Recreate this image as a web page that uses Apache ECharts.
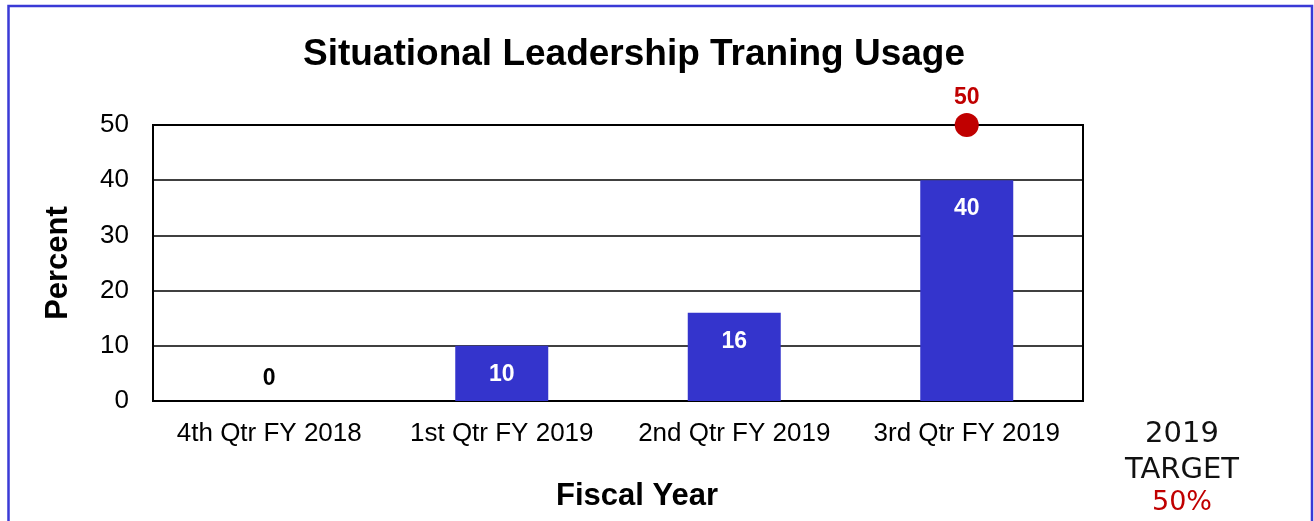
<!DOCTYPE html>
<html>
<head>
<meta charset="utf-8">
<script src="https://cdn.jsdelivr.net/npm/echarts@6/dist/echarts.min.js"></script>
<style>
  html, body { margin: 0; padding: 0; background: #fff; overflow: hidden; }
  #chart { width: 1314px; height: 521px; }
</style>
</head>
<body>
<div id="chart"></div>
<script>
// Quarterly usage of the Situational Leadership training (percent)
const quarters = ['4th Qtr FY 2018', '1st Qtr FY 2019', '2nd Qtr FY 2019', '3rd Qtr FY 2019'];
const usage = [0, 10, 16, 40];
const targetQuarter = '3rd Qtr FY 2019';
const targetValue = 50;
const yTicks = { min: 0, max: 50, interval: 10 };
const targetNote = ['2019', 'TARGET', targetValue + '%'];

const chart = echarts.init(document.getElementById('chart'));
const font = '"Liberation Sans", Arial, sans-serif';
const noteFont = '"DejaVu Sans", sans-serif';

chart.setOption({
  animation: false,
  backgroundColor: '#fff',
  title: {
    text: 'Situational Leadership Traning Usage',
    left: 629, top: 31, textAlign: 'center',
    textStyle: { fontFamily: font, fontWeight: 'bold', fontSize: 37, color: '#000' }
  },
  grid: {
    left: 153, right: 231, top: 125, bottom: 120,
    outerBoundsMode: 'none',
    containLabel: false,
    show: true, borderColor: '#000', borderWidth: 2, backgroundColor: 'transparent'
  },
  xAxis: {
    type: 'category',
    data: quarters,
    axisLine: { lineStyle: { color: '#000', width: 2 } },
    axisTick: { show: false },
    axisLabel: { interval: 0, fontFamily: font, fontSize: 26, color: '#000', margin: 20 },
    name: 'Fiscal Year',
    nameLocation: 'middle',
    nameGap: 80,
    nameTextStyle: {
      fontFamily: font, fontWeight: 'bold', fontSize: 31, color: '#000',
      padding: [0, 0, 0, 38]
    }
  },
  yAxis: {
    type: 'value',
    min: yTicks.min, max: yTicks.max, interval: yTicks.interval,
    axisLine: { show: true, lineStyle: { color: '#000', width: 2 } },
    axisTick: { show: false },
    splitLine: { lineStyle: { color: '#000', width: 1.5 } },
    axisLabel: { fontFamily: font, fontSize: 26, color: '#000', margin: 24 },
    name: 'Percent',
    nameLocation: 'middle',
    nameGap: 79,
    nameRotate: 90,
    nameTextStyle: { fontFamily: font, fontWeight: 'bold', fontSize: 31, color: '#000' }
  },
  series: [
    {
      type: 'bar',
      barWidth: '40%',
      itemStyle: { color: '#3434CC' },
      data: usage.map(v => v === 0
        ? { value: v, label: { position: 'top', distance: 11, color: '#000' } }
        : v),
      label: {
        show: true,
        position: 'insideTop',
        distance: 17,
        fontFamily: font, fontWeight: 'bold', fontSize: 23, color: '#fff'
      },
      z: 2
    },
    {
      type: 'scatter',
      data: [[targetQuarter, targetValue]],
      symbol: 'circle',
      symbolSize: 24,
      itemStyle: { color: '#C00000', opacity: 1 },
      label: {
        show: true, position: 'top', distance: 4,
        formatter: p => p.value[1],
        fontFamily: font, fontWeight: 'bold', fontSize: 23, color: '#C00000'
      },
      z: 5
    }
  ],
  graphic: [
    {
      type: 'rect',
      shape: { x: 8.5, y: 6, width: 1303.5, height: 530 },
      style: { fill: 'none', stroke: '#3A3AD6', lineWidth: 2.5 },
      silent: true
    },
    ...targetNote.map((t, i) => ({
      type: 'text',
      x: 1182, y: [434, 470, 503][i],
      style: {
        text: t, align: 'center', verticalAlign: 'middle',
        font: (i === 2 ? '27px ' : '29px ') + noteFont,
        fill: i === 2 ? '#C00000' : '#111'
      },
      silent: true
    }))
  ]
});
</script>
</body>
</html>
